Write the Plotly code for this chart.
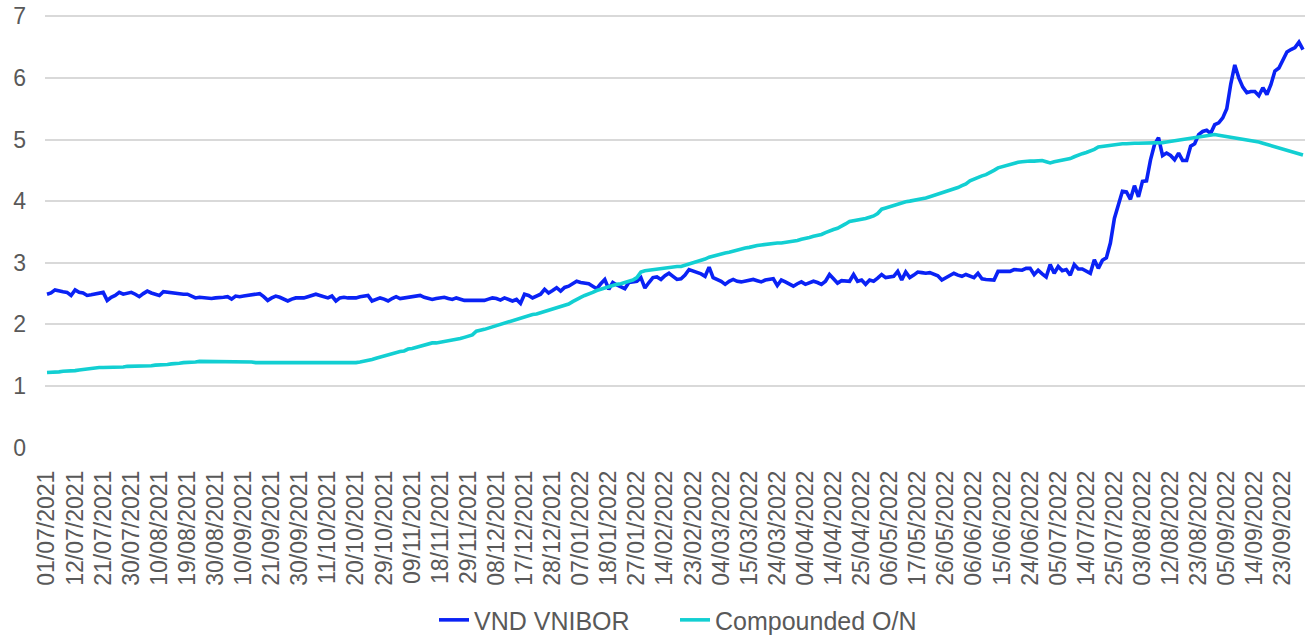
import plotly.graph_objects as go

tick_labels = [
    "01/07/2021", "12/07/2021", "21/07/2021", "30/07/2021", "10/08/2021", "19/08/2021",
    "30/08/2021", "10/09/2021", "21/09/2021", "30/09/2021", "11/10/2021", "20/10/2021",
    "29/10/2021", "09/11/2021", "18/11/2021", "29/11/2021", "08/12/2021", "17/12/2021",
    "28/12/2021", "07/01/2022", "18/01/2022", "27/01/2022", "14/02/2022", "23/02/2022",
    "04/03/2022", "15/03/2022", "24/03/2022", "04/04/2022", "14/04/2022", "25/04/2022",
    "06/05/2022", "17/05/2022", "26/05/2022", "06/06/2022", "15/06/2022", "24/06/2022",
    "05/07/2022", "14/07/2022", "25/07/2022", "03/08/2022", "12/08/2022", "23/08/2022",
    "05/09/2022", "14/09/2022", "23/09/2022",
]
# business-day observations between labelled dates (7 per label step)
obs_per_label = 7

vnibor = [
    2.49, 2.51, 2.56, 2.54, 2.53, 2.52, 2.47,
    2.56, 2.52, 2.51, 2.47, 2.48, 2.49, 2.50,
    2.52, 2.39, 2.44, 2.47, 2.52, 2.49, 2.50,
    2.52, 2.49, 2.45, 2.50, 2.54, 2.51, 2.49,
    2.47, 2.53, 2.52, 2.51, 2.50, 2.50, 2.49,
    2.49, 2.46, 2.43, 2.44, 2.43, 2.43, 2.42,
    2.43, 2.43, 2.44, 2.45, 2.41, 2.46, 2.45,
    2.46, 2.47, 2.47, 2.48, 2.50, 2.45, 2.39,
    2.43, 2.46, 2.44, 2.41, 2.38, 2.41, 2.43,
    2.43, 2.43, 2.45, 2.47, 2.49, 2.47, 2.45,
    2.43, 2.46, 2.38, 2.43, 2.44, 2.43, 2.43,
    2.43, 2.45, 2.46, 2.47, 2.38, 2.41, 2.43,
    2.41, 2.38, 2.42, 2.45, 2.42, 2.43, 2.43,
    2.44, 2.46, 2.47, 2.44, 2.42, 2.405, 2.42,
    2.43, 2.44, 2.42, 2.405, 2.43, 2.41, 2.39,
    2.39, 2.39, 2.39, 2.38, 2.39, 2.41, 2.43,
    2.42, 2.395, 2.43, 2.40, 2.38, 2.405, 2.34,
    2.49, 2.47, 2.43, 2.46, 2.49, 2.57, 2.51,
    2.55, 2.595, 2.54, 2.60, 2.62, 2.66, 2.70,
    2.68, 2.67, 2.66, 2.62, 2.58, 2.66, 2.73,
    2.57, 2.68, 2.64, 2.61, 2.58, 2.68, 2.69,
    2.70, 2.76, 2.59, 2.68, 2.76, 2.77, 2.73,
    2.79, 2.83, 2.78, 2.73, 2.74, 2.80, 2.89,
    2.87, 2.85, 2.82, 2.78, 2.93, 2.76, 2.73,
    2.70, 2.65, 2.70, 2.73, 2.70, 2.69, 2.70,
    2.72, 2.73, 2.71, 2.69, 2.72, 2.73, 2.74,
    2.63, 2.72, 2.69, 2.66, 2.62, 2.66, 2.69,
    2.65, 2.68, 2.70, 2.68, 2.65, 2.70, 2.81,
    2.74, 2.67, 2.71, 2.70, 2.70, 2.81, 2.70,
    2.72, 2.65, 2.72, 2.70, 2.75, 2.81, 2.76,
    2.77, 2.78, 2.86, 2.72, 2.85, 2.76, 2.80,
    2.85, 2.84, 2.83, 2.84, 2.81, 2.79, 2.72,
    2.76, 2.79, 2.83, 2.80, 2.78, 2.81, 2.78,
    2.76, 2.83, 2.74, 2.73, 2.72, 2.72, 2.86,
    2.86, 2.86, 2.86, 2.89, 2.88, 2.88, 2.91,
    2.91, 2.81, 2.88, 2.82, 2.77, 2.97, 2.83,
    2.94, 2.87, 2.89, 2.80, 2.97, 2.90, 2.90,
    2.87, 2.83, 3.05, 2.91, 3.04, 3.08, 3.32,
    3.72, 3.94, 4.16, 4.15, 4.03, 4.25, 4.07,
    4.32, 4.33, 4.67, 4.92, 5.03, 4.74, 4.78,
    4.74, 4.67, 4.78, 4.66, 4.66, 4.89, 4.93,
    5.08, 5.13, 5.15, 5.10, 5.24, 5.27, 5.35,
    5.50, 5.90, 6.21, 6.00, 5.85, 5.76, 5.78,
    5.78, 5.71, 5.84, 5.73, 5.89, 6.11, 6.16,
    6.28, 6.42, 6.46, 6.49, 6.58, 6.46,
]

compounded_on = [
    1.22, 1.22, 1.23, 1.23, 1.24, 1.24, 1.25,
    1.25, 1.26, 1.27, 1.27, 1.28, 1.29, 1.30,
    1.30, 1.30, 1.31, 1.31, 1.31, 1.31, 1.32,
    1.32, 1.32, 1.32, 1.33, 1.33, 1.33, 1.34,
    1.34, 1.35, 1.35, 1.36, 1.36, 1.37, 1.38,
    1.38, 1.39, 1.39, 1.40, 1.40, 1.40, 1.40,
    1.40, 1.40, 1.39, 1.39, 1.39, 1.39, 1.39,
    1.39, 1.39, 1.39, 1.38, 1.38, 1.38, 1.38,
    1.38, 1.37, 1.37, 1.37, 1.37, 1.37, 1.37,
    1.37, 1.37, 1.37, 1.38, 1.38, 1.38, 1.38,
    1.38, 1.38, 1.38, 1.38, 1.38, 1.38, 1.38,
    1.38, 1.39, 1.40, 1.42, 1.43, 1.45, 1.47,
    1.48, 1.50, 1.52, 1.54, 1.56, 1.57, 1.60,
    1.61, 1.63, 1.65, 1.67, 1.68, 1.70, 1.70,
    1.71, 1.72, 1.73, 1.74, 1.76, 1.77, 1.79,
    1.81, 1.83, 1.89, 1.90, 1.92, 1.94, 1.96,
    1.98, 2.00, 2.03, 2.05, 2.07, 2.08, 2.10,
    2.12, 2.14, 2.16, 2.17, 2.19, 2.21, 2.23,
    2.24, 2.26, 2.28, 2.30, 2.33, 2.37, 2.41,
    2.44, 2.47, 2.49, 2.52, 2.55, 2.57, 2.60,
    2.62, 2.64, 2.65, 2.66, 2.68, 2.70, 2.72,
    2.76, 2.85, 2.87, 2.88, 2.89, 2.90, 2.91,
    2.92, 2.92, 2.93, 2.94, 2.94, 2.96, 2.97,
    2.99, 3.01, 3.03, 3.06, 3.09, 3.11, 3.13,
    3.14, 3.16, 3.17, 3.19, 3.21, 3.22, 3.24,
    3.25, 3.27, 3.28, 3.29, 3.30, 3.31, 3.31,
    3.32, 3.32, 3.33, 3.33, 3.34, 3.36, 3.38,
    3.39, 3.41, 3.43, 3.44, 3.46, 3.49, 3.52,
    3.54, 3.56, 3.59, 3.63, 3.67, 3.68, 3.69,
    3.71, 3.72, 3.74, 3.76, 3.80, 3.87, 3.89,
    3.91, 3.94, 3.96, 3.97, 3.99, 4.00, 4.01,
    4.02, 4.03, 4.05, 4.07, 4.09, 4.11, 4.14,
    4.16, 4.18, 4.20, 4.22, 4.25, 4.28, 4.33,
    4.36, 4.38, 4.41, 4.43, 4.46, 4.50, 4.54,
    4.56, 4.58, 4.60, 4.62, 4.63, 4.64, 4.65,
    4.65, 4.65, 4.66, 4.66, 4.64, 4.62, 4.64,
    4.65, 4.66, 4.67, 4.69, 4.72, 4.75, 4.77,
    4.79, 4.81, 4.84, 4.88, 4.89, 4.90, 4.91,
    4.92, 4.93, 4.93, 4.93, 4.94, 4.94, 4.94,
    4.94, 4.94, 4.95, 4.95, 4.95, 4.95, 4.96,
    4.97, 4.98, 4.99, 5.00, 5.02, 5.03, 5.04,
    5.05, 5.06, 5.07, 5.07, 5.08, 5.07, 5.06,
    5.05, 5.04, 5.03, 5.02, 5.00, 4.99, 4.98,
    4.97, 4.96, 4.94, 4.92, 4.90, 4.88, 4.86,
    4.85, 4.83, 4.81, 4.79, 4.77, 4.75,
]

n = len(vnibor)
x_idx = list(range(n))
tick_pos = [k * obs_per_label for k in range(len(tick_labels))]

FONT = "Liberation Sans, Arial, sans-serif"
GREY = "#595959"
FS = 23

fig = go.Figure()
fig.add_trace(go.Scatter(x=x_idx, y=vnibor, mode="lines", name="VND VNIBOR",
                         line=dict(color="#0A22F5", width=3.6)))
fig.add_trace(go.Scatter(x=x_idx, y=compounded_on, mode="lines", name="Compounded O/N",
                         line=dict(color="#12CFD2", width=3.6)))

fig.update_layout(
    width=1308, height=636,
    margin=dict(l=45, r=3, t=15, b=188, autoexpand=False),
    paper_bgcolor="white", plot_bgcolor="white",
    font=dict(family=FONT, size=FS, color=GREY),
    showlegend=True,
    legend=dict(orientation="h", x=0.5, xanchor="center", xref="paper",
                y=0.025, yanchor="middle", yref="container",
                font=dict(family=FONT, size=25, color=GREY), entrywidth=196,
                tracegroupgap=0, bgcolor="rgba(0,0,0,0)"),
)
fig.update_xaxes(
    range=[-0.5, n - 0.5], tickmode="array", tickvals=tick_pos, ticktext=tick_labels,
    tickangle=-90, showgrid=False, zeroline=False, showline=False, ticks="",
    tickfont=dict(family=FONT, size=FS, color=GREY), ticklabelstandoff=17,
    automargin=False,
)
fig.update_yaxes(
    range=[-0.005, 7.02], tickmode="array", tickvals=[0, 1, 2, 3, 4, 5, 6, 7],
    showgrid=True, gridcolor="#D9D9D9", gridwidth=2,
    zeroline=False, showline=False, ticks="",
    tickfont=dict(family=FONT, size=FS, color=GREY), ticklabelstandoff=18,
    automargin=False,
)

fig.write_html(
    "out.html",
    config={"displayModeBar": False},
    post_script="document.body.style.margin='0';document.body.style.overflow='hidden';",
)
